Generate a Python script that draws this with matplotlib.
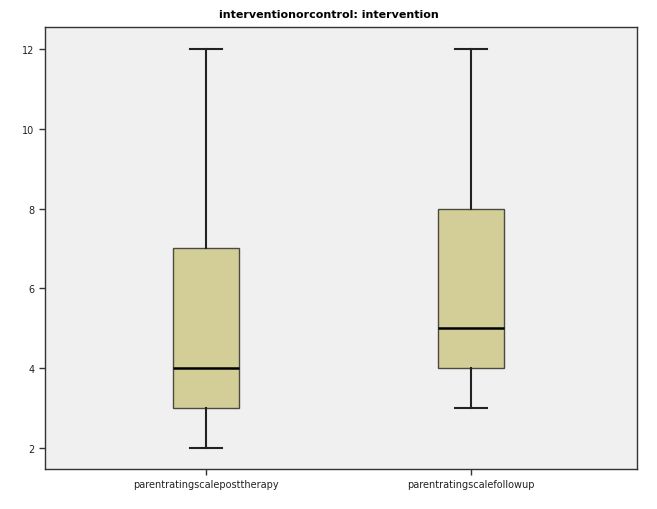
import matplotlib
matplotlib.use('Agg')
import matplotlib.pyplot as plt

# Box statistics
labels = ['parentratingscaleposttherapy', 'parentratingscalefollowup']
whislo = [2, 3]
q1 = [3, 4]
med = [4, 5]
q3 = [7, 8]
whishi = [12, 12]

stats = [{'label': labels[i], 'whislo': whislo[i], 'q1': q1[i], 'med': med[i],
          'q3': q3[i], 'whishi': whishi[i], 'fliers': []} for i in range(len(labels))]

plt.rcParams['font.family'] = 'DejaVu Sans'
fig = plt.figure(figsize=(6.57, 5.10), dpi=100)
ax = fig.add_axes([0.0685, 0.0784, 0.9011, 0.8666])
ax.set_facecolor('#f0f0f0')

ax.bxp(stats, positions=[1, 2], widths=0.25, capwidths=0.12, patch_artist=True,
       boxprops={'facecolor': '#d3ce98', 'edgecolor': '#4a4a40', 'linewidth': 1.0},
       medianprops={'color': 'black', 'linewidth': 1.8},
       whiskerprops={'color': '#222222', 'linewidth': 1.5},
       capprops={'color': '#222222', 'linewidth': 1.5})

ax.set_xlim(0.392, 2.626)
ax.set_ylim(1.47, 12.55)
ax.set_yticks([2, 4, 6, 8, 10, 12])
ax.tick_params(axis='both', labelsize=7, length=4, width=1, color='#333333', labelcolor='#222222')
for s in ax.spines.values():
    s.set_color('#333333')
    s.set_linewidth(1)
fig.text(0.5, 1 - 15 / 510, 'interventionorcontrol: intervention', fontsize=8,
         fontweight='bold', ha='center', va='center')

fig.savefig('out.png', dpi=100)
